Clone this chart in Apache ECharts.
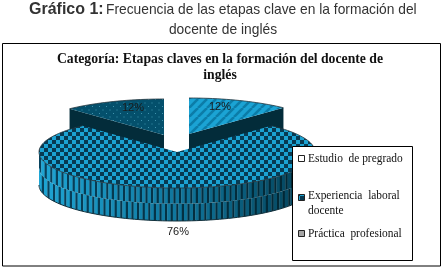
<!DOCTYPE html>
<html><head><meta charset="utf-8">
<script src="https://cdn.jsdelivr.net/npm/echarts@6/dist/echarts.min.js"></script>
<style>html,body{margin:0;padding:0;background:#fff}#c{width:446px;height:274px}</style>
</head><body><div id="c"></div>
<script>
var categories = ['Estudio de pregrado', 'Experiencia laboral docente', 'Práctica profesional'];
var values = [12, 76, 12];
var drawOrder = [2, 0, 1];

var RX = 138, RY = 36, DEPTH = 33;
var centers = [[189, 134], [177, 152], [164, 135]];
var total = values.reduce(function (a, b) { return a + b; }, 0);
var starts = [], acc = 0;
values.forEach(function (v) { starts.push(acc / total * 360); acc += v; });

function makeCanvas(w, h, draw) {
  var c = document.createElement('canvas'); c.width = w; c.height = h;
  draw(c.getContext('2d')); return c;
}
var patChecker = makeCanvas(8, 8, function (g) {
  g.fillStyle = '#1ba2d2'; g.fillRect(0, 0, 8, 8);
  g.fillStyle = '#073a52'; g.fillRect(0, 0, 4, 4); g.fillRect(4, 4, 4, 4);
});
var patStripes = makeCanvas(9, 9, function (g) {
  g.fillStyle = '#1ba3d4'; g.fillRect(0, 0, 9, 9);
  g.strokeStyle = '#0c7ca8'; g.lineWidth = 2.6;
  [-9, 0, 9, 18].forEach(function (o) { g.beginPath(); g.moveTo(o, 9); g.lineTo(o + 9, 0); g.stroke(); });
});
var patDots = makeCanvas(7, 7, function (g) {
  g.fillStyle = '#04506c'; g.fillRect(0, 0, 7, 7);
  g.fillStyle = '#3f93ad'; g.fillRect(1, 1, 1, 1); g.fillRect(4.5, 4.5, 1, 1);
});
var patterns = [patStripes, patChecker, patDots];

function pt(c, deg, dy) {
  var r = deg * Math.PI / 180;
  return [c[0] + RX * Math.sin(r), c[1] - RY * Math.cos(r) + (dy || 0)];
}
function mix(a, b, t) {
  return 'rgb(' + a.map(function (v, i) { return Math.round(v + (b[i] - v) * t); }).join(',') + ')';
}
function shade(t, dark) {
  var L = dark ? [[8, 66, 94], [4, 48, 66], [2, 38, 50]] : [[30, 165, 212], [16, 118, 156], [3, 62, 84]];
  return t < 0.5 ? mix(L[0], L[1], t * 2) : mix(L[1], L[2], (t - 0.5) * 2);
}
function arcPoints(c, a0, a1) {
  var pts = [], n = Math.max(2, Math.ceil(Math.abs(a1 - a0) / 2));
  for (var i = 0; i <= n; i++) pts.push(pt(c, a0 + (a1 - a0) * i / n));
  return pts;
}
function rimY(c, x, dy) {
  var u = (x - c[0]) / RX;
  return c[1] + RY * Math.sqrt(Math.max(0, 1 - u * u)) + dy;
}
function renderItem(params, api) {
  var idx = api.value(0), val = api.value(1);
  var a0 = starts[idx], a1 = a0 + val / total * 360, c = centers[idx];
  var kids = [];
  // outer rim, drawn only where it faces the viewer
  var r0 = Math.max(a0, 90), r1 = Math.min(a1, 270);
  if (r1 > r0) {
    var xA = pt(c, r1)[0], xB = pt(c, r0)[0], widths = [2.2, 3.4];
    var rows = [[0, DEPTH * 0.48, 0], [DEPTH * 0.48, DEPTH, 1]];
    rows.forEach(function (row) {
      var i = 0, x = xA;
      if (row[2]) x -= 2.8;
      while (x < xB) {
        var isDark = i % 2 === 0, step = widths[isDark ? 0 : 1];
        var xs = Math.max(xA, x), xn = Math.min(xB, x + step + 0.3), pts = [], t = (xs - xA) / (xB - xA);
        if (xn > xs) {
          var N = 2, k, xx;
          for (k = 0; k <= N; k++) { xx = xs + (xn - xs) * k / N; pts.push([xx, rimY(c, xx, row[0])]); }
          for (k = N; k >= 0; k--) { xx = xs + (xn - xs) * k / N; pts.push([xx, rimY(c, xx, row[1])]); }
          kids.push({ type: 'polygon', shape: { points: pts }, style: { fill: shade(t, isDark) } });
        }
        x += step; i++;
      }
    });
    var edge = [];
    for (var e = r0; e <= r1; e += 2) edge.push(pt(c, e, DEPTH));
    kids.push({ type: 'polyline', shape: { points: edge }, style: { fill: null, stroke: '#12303c', lineWidth: 1 } });
  }
  // radial cut walls of the small exploded slices
  if (idx !== 1) {
    var wallAngle = idx === 0 ? a1 : a0, o = pt(c, wallAngle);
    kids.push({ type: 'polygon', shape: { points: [c, o, [o[0], o[1] + DEPTH], [c[0], c[1] + DEPTH]] }, style: { fill: '#032c3a' } });
  }
  // top face
  var face = arcPoints(c, a0, a1); face.unshift(c);
  kids.push({ type: 'polygon', shape: { points: face }, style: { fill: { image: patterns[idx], repeat: 'repeat' } } });
  kids.push({ type: 'polyline', shape: { points: arcPoints(c, a0, a1) }, style: { fill: null, stroke: '#22343c', lineWidth: 0.8 } });
  // percentage label
  var mid = (a0 + a1) / 2, lp;
  if (idx === 1) { lp = pt(c, mid, DEPTH + 11); lp[0] += 1; }
  else { lp = pt(c, mid); lp = [c[0] + (lp[0] - c[0]) * 0.61, c[1] + (lp[1] - c[1]) * 0.8]; }
  kids.push({ type: 'text', z2: 50, style: { x: lp[0], y: lp[1], text: val + '%', fill: '#1a1a1a', font: '11px "Liberation Sans"', align: 'center', verticalAlign: 'middle' } });
  return { type: 'group', children: kids };
}

var serif = '"Liberation Serif"', sans = '"Liberation Sans"';
function txt(x, y, text, font, align, sx, fill) {
  return { type: 'text', x: x, y: y, scaleX: sx || 1, z: 20, style: { text: text, font: font, align: align || 'left', verticalAlign: 'middle', fill: fill || '#111' } };
}
var swatchY = [159, 198, 234];
var swatchFill = ['#fff', { image: patChecker, repeat: 'repeat' }, '#a6a6a6'];
var graphics = [
  { type: 'rect', z: 1, shape: { x: 2.5, y: 43.5, width: 438, height: 222.5 }, style: { fill: '#fff', stroke: '#000', lineWidth: 1 } },
  txt(29, 10, 'Gráfico 1:', 'bold 16px ' + sans, 'left', 1, '#333'),
  txt(106, 10, 'Frecuencia de las etapas clave en la formación del', '15px ' + sans, 'left', 0.92, '#333'),
  txt(223, 30, 'docente de inglés', '15px ' + sans, 'center', 0.92, '#333'),
  txt(220, 59, 'Categoría: Etapas claves en la formación del docente de', 'bold 14px ' + serif, 'center', 0.98),
  txt(220, 75, 'inglés', 'bold 14px ' + serif, 'center', 0.98),
  { type: 'rect', z: 15, shape: { x: 292.5, y: 146.5, width: 120, height: 114 }, style: { fill: '#fff', stroke: '#000', lineWidth: 1 } },
  txt(308, 159, 'Estudio  de pregrado', '12px ' + serif, 'left', 0.95),
  txt(308, 196, 'Experiencia  laboral', '12px ' + serif, 'left', 0.95),
  txt(308, 211, 'docente', '12px ' + serif, 'left', 0.95),
  txt(308, 234, 'Práctica  profesional', '12px ' + serif, 'left', 0.95)
];
swatchY.forEach(function (y, i) {
  graphics.push({ type: 'rect', z: 20, shape: { x: 298.5, y: y - 3.5, width: 6, height: 6 }, style: { fill: swatchFill[i], stroke: '#222', lineWidth: 1 } });
});

var chart = echarts.init(document.getElementById('c'), null, { renderer: 'canvas' });
chart.setOption({
  animation: false,
  backgroundColor: '#fff',
  graphic: { elements: graphics },
  series: [{
    type: 'custom', coordinateSystem: 'none', z: 5, silent: true,
    renderItem: renderItem,
    data: drawOrder.map(function (i) { return [i, values[i], categories[i]]; })
  }]
});
</script></body></html>
